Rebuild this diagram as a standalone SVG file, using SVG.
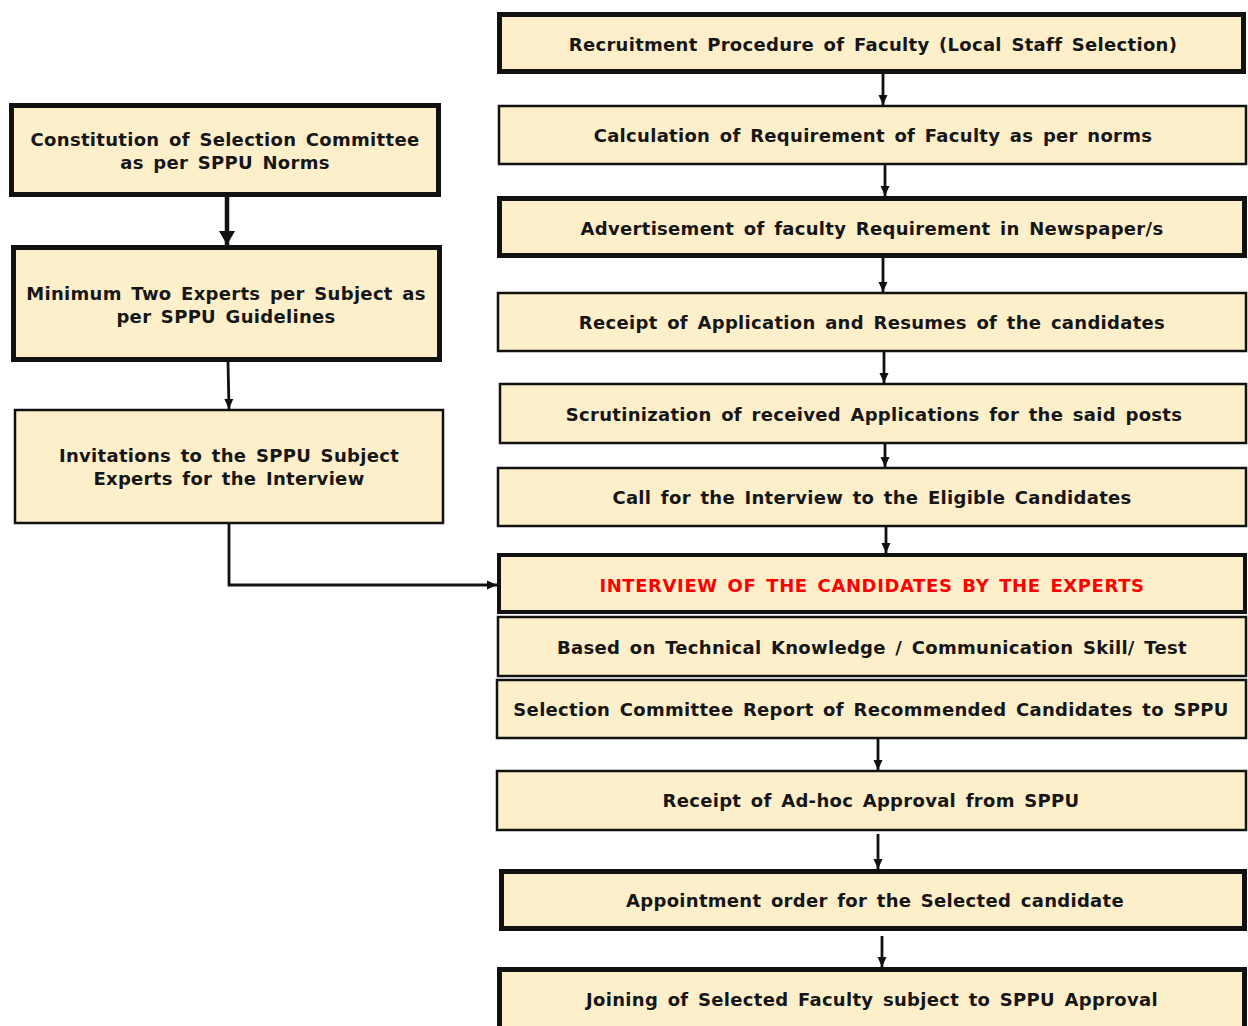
<svg xmlns="http://www.w3.org/2000/svg" width="1248" height="1026" viewBox="0 0 1248 1026">
<style>
.box{fill:#FDEFCA;stroke:#111;}
.thick{stroke-width:5;}
.mid{stroke-width:4;}
.thin{stroke-width:2.5;}
text{font-family:"DejaVu Sans",Verdana,sans-serif;font-weight:bold;font-size:18px;letter-spacing:0.3px;word-spacing:3px;fill:#161616;text-anchor:middle;}
.red{fill:#FF0000;letter-spacing:0.6px;}
.con{fill:none;stroke:#111;stroke-width:2.8;}
.con4{fill:none;stroke:#111;stroke-width:4.5;}
</style>
<defs>
<marker id="ah" markerUnits="userSpaceOnUse" markerWidth="10" markerHeight="10" viewBox="0 0 10 10" refX="10" refY="5" orient="auto">
<path d="M0,0.5 L10,5 L0,9.5 Z" fill="#111"/>
</marker>
<marker id="ahb" markerUnits="userSpaceOnUse" markerWidth="14" markerHeight="16" viewBox="0 0 14 16" refX="14" refY="8" orient="auto">
<path d="M0,0 L14,8 L0,16 Z" fill="#111"/>
</marker>
</defs>
<g id="connectors">
<line class="con" x1="883" y1="74" x2="883" y2="105" marker-end="url(#ah)"/>
<line class="con" x1="885" y1="165" x2="885" y2="196" marker-end="url(#ah)"/>
<line class="con" x1="883" y1="258" x2="883" y2="292" marker-end="url(#ah)"/>
<line class="con" x1="884" y1="352" x2="884" y2="383" marker-end="url(#ah)"/>
<line class="con" x1="885" y1="438" x2="885" y2="467" marker-end="url(#ah)"/>
<line class="con" x1="886" y1="521" x2="886" y2="553" marker-end="url(#ah)"/>
<line class="con" x1="878" y1="739" x2="878" y2="770" marker-end="url(#ah)"/>
<line class="con" x1="878" y1="834" x2="878" y2="869" marker-end="url(#ah)"/>
<line class="con" x1="882" y1="936" x2="882" y2="967" marker-end="url(#ah)"/>
<line class="con4" x1="227" y1="197" x2="227" y2="245" marker-end="url(#ahb)"/>
<line class="con" x1="228" y1="362" x2="229" y2="409" marker-end="url(#ah)"/>
<polyline class="con" points="229,524 229,585 497,585" marker-end="url(#ah)"/>
</g>
<g id="n1"><rect class="box thick" x="499.5" y="14.5" width="744" height="57"/><text x="873" y="51">Recruitment Procedure of Faculty (Local Staff Selection)</text></g>
<g id="n2"><rect class="box thin" x="499" y="106" width="747" height="58"/><text x="873" y="142">Calculation of Requirement of Faculty as per norms</text></g>
<g id="n3"><rect class="box thick" x="499.5" y="198.5" width="745" height="57"/><text x="872" y="235">Advertisement of faculty Requirement in Newspaper/s</text></g>
<g id="n4"><rect class="box thin" x="498" y="293" width="748" height="58"/><text x="872" y="329">Receipt of Application and Resumes of the candidates</text></g>
<g id="n5"><rect class="box thin" x="500" y="384" width="746" height="59"/><text x="874" y="421">Scrutinization of received Applications for the said posts</text></g>
<g id="n6"><rect class="box thin" x="498" y="468" width="748" height="58"/><text x="872" y="504">Call for the Interview to the Eligible Candidates</text></g>
<g id="n7"><rect class="box mid" x="499" y="555" width="746" height="57"/><text class="red" x="872" y="592">INTERVIEW OF THE CANDIDATES BY THE EXPERTS</text></g>
<g id="n8"><rect class="box thin" x="498" y="617" width="748" height="59"/><text x="872" y="654">Based on Technical Knowledge / Communication Skill/ Test</text></g>
<g id="n9"><rect class="box thin" x="497" y="680" width="749" height="58"/><text x="871" y="716">Selection Committee Report  of Recommended Candidates to SPPU</text></g>
<g id="n10"><rect class="box thin" x="497" y="771" width="749" height="59"/><text x="871" y="807">Receipt of Ad-hoc Approval from SPPU</text></g>
<g id="n11"><rect class="box thick" x="501.5" y="871.5" width="743" height="57"/><text x="875" y="907">Appointment order for the Selected  candidate</text></g>
<g id="n12"><rect class="box thick" x="499.5" y="969.5" width="745" height="62"/><text x="872" y="1006">Joining of Selected Faculty subject to SPPU Approval</text></g>
<g id="nA"><rect class="box thick" x="11.5" y="105.5" width="427" height="89"/><text x="225" y="146">Constitution of Selection Committee</text><text x="225" y="169">as per SPPU Norms</text></g>
<g id="nB"><rect class="box thick" x="13.5" y="247.5" width="426" height="112"/><text x="226" y="300">Minimum Two Experts per Subject as</text><text x="226" y="323">per SPPU Guidelines</text></g>
<g id="nC"><rect class="box thin" x="15" y="410" width="428" height="113"/><text x="229" y="462">Invitations to the SPPU Subject</text><text x="229" y="485">Experts for the Interview</text></g>
</svg>
